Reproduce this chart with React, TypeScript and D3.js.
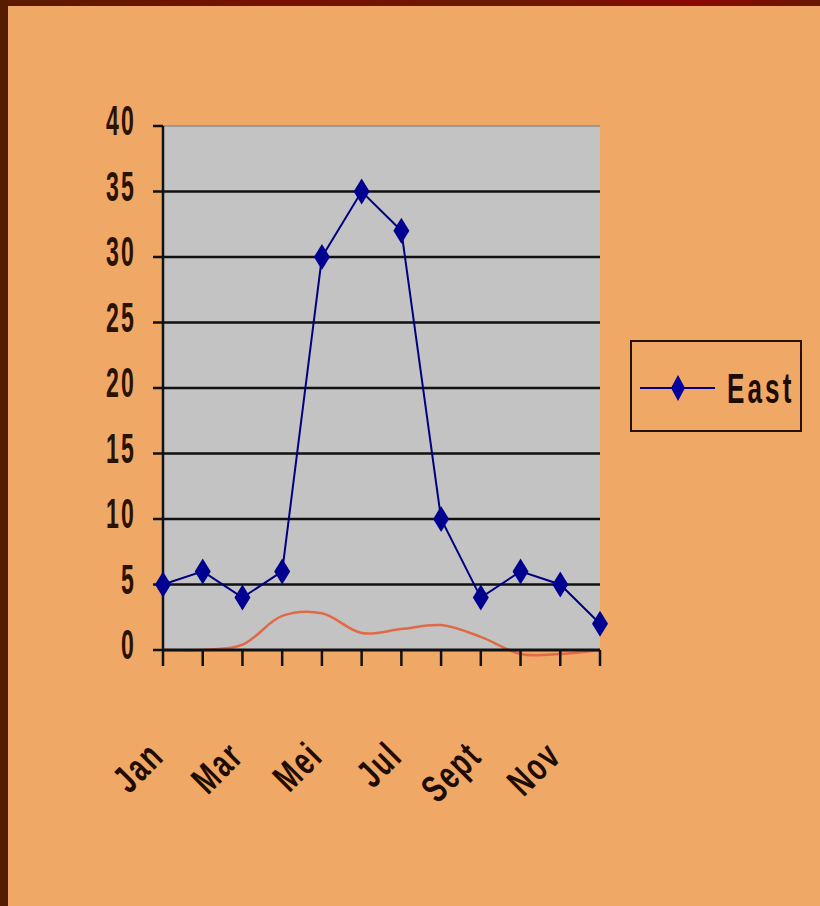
import React from "react";
import * as d3 from "d3";

const months = ["Jan", "Feb", "Mar", "Apr", "Mei", "Jun", "Jul", "Agu", "Sept", "Okt", "Nov", "Des"];
const eastValues = [5, 6, 4, 6, 30, 35, 32, 10, 4, 6, 5, 2];
const trendValues = [0, 0, 0.4, 2.6, 2.8, 1.3, 1.6, 1.9, 1.0, -0.3, -0.3, 0];
const yTicks = [0, 5, 10, 15, 20, 25, 30, 35, 40];
const xLabelMonths = ["Jan", "Mar", "Mei", "Jul", "Sept", "Nov"];
const legendLabel = "East";

const W = 820;
const H = 906;
const plot = { left: 163, right: 600, top: 126, bottom: 650 };

export default function App() {
  const x = d3.scalePoint<string>().domain(months).range([plot.left, plot.right]);
  const y = d3.scaleLinear().domain([0, 40]).range([plot.bottom, plot.top]);

  const eastLine = d3
    .line<number>()
    .x((_, i) => x(months[i]) as number)
    .y((d) => y(d));
  const trendLine = d3
    .line<number>()
    .x((_, i) => x(months[i]) as number)
    .y((d) => y(d))
    .curve(d3.curveCatmullRom.alpha(0.5));

  const diamond = (cx: number, cy: number, w = 8, h = 13) =>
    `M${cx},${cy - h}L${cx + w},${cy}L${cx},${cy + h}L${cx - w},${cy}Z`;

  const font = "'Liberation Sans', Arial, sans-serif";

  return (
    <div style={{ position: "absolute", left: 0, top: 0 }}>
      <svg width={W} height={H} style={{ display: "block" }}>
        <defs>
          <linearGradient id="topb" x1="0" x2="1" y1="0" y2="0">
            <stop offset="0" stopColor="#5a1c00" />
            <stop offset="0.35" stopColor="#7a1000" />
            <stop offset="0.6" stopColor="#6a1a00" />
            <stop offset="0.85" stopColor="#8a0a00" />
            <stop offset="1" stopColor="#6a1800" />
          </linearGradient>
        </defs>
        <rect x={0} y={0} width={W} height={H} fill="#F0A866" />
        <rect x={0} y={0} width={W} height={6} fill="url(#topb)" />
        <rect x={0} y={0} width={8} height={H} fill="#561c00" />

        {/* plot area */}
        <rect
          x={plot.left}
          y={plot.top}
          width={plot.right - plot.left}
          height={plot.bottom - plot.top}
          fill="#C3C3C3"
        />
        <line x1={plot.left} x2={plot.right} y1={plot.top} y2={plot.top} stroke="#777" strokeWidth={1} />

        {/* gridlines */}
        {yTicks.slice(1, -1).map((t) => (
          <line key={t} x1={plot.left} x2={plot.right} y1={y(t)} y2={y(t)} stroke="#111" strokeWidth={2.5} />
        ))}

        {/* y axis */}
        <line x1={plot.left} x2={plot.left} y1={plot.top} y2={plot.bottom} stroke="#111" strokeWidth={2.5} />
        {yTicks.map((t) => (
          <g key={t}>
            <line x1={plot.left - 10} x2={plot.left} y1={y(t)} y2={y(t)} stroke="#111" strokeWidth={2.5} />
            <text
              transform={`translate(136,${y(t) - 6}) scale(0.55,1)`}
              dy="0.36em"
              textAnchor="end"
              fontFamily={font}
              fontWeight="bold"
              fontSize={42}
              letterSpacing={4}
              fill="#2a1200"
            >
              {t}
            </text>
          </g>
        ))}

        {/* trend line */}
        <path d={trendLine(trendValues) || ""} fill="none" stroke="#E06A48" strokeWidth={2.5} />

        {/* x axis */}
        <line x1={plot.left} x2={plot.right} y1={plot.bottom} y2={plot.bottom} stroke="#111" strokeWidth={3} />
        {months.map((m) => (
          <line
            key={m}
            x1={x(m) as number}
            x2={x(m) as number}
            y1={plot.bottom}
            y2={plot.bottom + 16}
            stroke="#111"
            strokeWidth={2.5}
          />
        ))}
        {xLabelMonths.map((m) => {
          const tx = (x(m) as number) + 3;
          const ty = 758;
          return (
            <text
              key={m}
              transform={`translate(${tx},${ty}) rotate(-45) scale(0.68,1)`}
              textAnchor="end"
              fontFamily={font}
              fontWeight="bold"
              fontSize={39}
              letterSpacing={3}
              fill="#1e0c00"
            >
              {m}
            </text>
          );
        })}

        {/* East series */}
        <path d={eastLine(eastValues) || ""} fill="none" stroke="#000080" strokeWidth={2} />
        {eastValues.map((v, i) => (
          <path key={i} d={diamond(x(months[i]) as number, y(v))} fill="#000090" />
        ))}

        {/* legend */}
        <rect x={631} y={341} width={170} height={90} fill="#F0A866" stroke="#2a1000" strokeWidth={2} />
        <line x1={640} x2={715} y1={388} y2={388} stroke="#000080" strokeWidth={2} />
        <path d={diamond(678, 388, 7, 13)} fill="#0000A0" />
        <text
          transform="translate(727,388) scale(0.62,1)"
          dy="0.36em"
          fontFamily={font}
          fontWeight="bold"
          fontSize={42}
          letterSpacing={5}
          fill="#1e0c00"
        >
          {legendLabel}
        </text>
      </svg>
    </div>
  );
}
